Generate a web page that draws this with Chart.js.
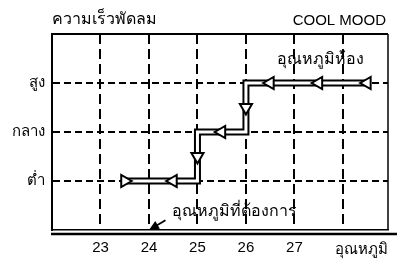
<!DOCTYPE html>
<html>
<head>
<meta charset="utf-8">
<script src="https://cdn.jsdelivr.net/npm/chart.js@4"></script>
<style>
  body { margin: 0; background: #fff; }
</style>
</head>
<body>
<canvas id="myChart" width="397" height="260"></canvas>
<script>
// axis ticks
const xTicks = [23, 24, 25, 26, 27, 28];
const xTickLabels = ['23', '24', '25', '26', '27', ''];
const yTicks = [1, 2, 3];
const yTickLabels = ['ต่ำ', 'กลาง', 'สูง'];

// the stepped path (temperature, fan speed)
const pathX = [23.5, 25, 25, 26, 26, 28.5];
const pathY = [1, 1, 2, 2, 3, 3];

// arrow heads on the path
const arrowX = [23.5, 24.5, 25, 25.5, 26, 26.5, 27.5, 28.5];
const arrowY = [1, 1, 1.5, 2, 2.5, 3, 3, 3];
const arrowDir = ['right', 'left', 'down', 'left', 'down', 'left', 'left', 'left'];

const FONT = 'Liberation Sans, Arial, sans-serif';
const rot = { up: 0, right: 90, down: 180, left: 270 };

const toPoints = (xs, ys) => xs.map((x, i) => ({ x: x, y: ys[i] }));

// frame, double base line and the texts
const extras = {
  id: 'extras',
  afterDraw(chart) {
    const c = chart.ctx;
    const a = chart.chartArea;
    const sx = chart.scales.x;
    const sy = chart.scales.y;
    c.save();
    c.strokeStyle = '#000';
    // top + right frame
    c.lineWidth = 2;
    c.beginPath();
    c.moveTo(a.left - 1, a.top);
    c.lineTo(a.right, a.top);
    c.stroke();
    c.lineWidth = 1.5;
    c.beginPath();
    c.moveTo(a.right, a.top);
    c.lineTo(a.right, a.bottom);
    c.stroke();
    // second base line
    c.lineWidth = 2.5;
    c.beginPath();
    c.moveTo(a.left - 1, a.bottom + 4);
    c.lineTo(chart.width, a.bottom + 4);
    c.stroke();

    c.fillStyle = '#000';
    c.textBaseline = 'middle';
    c.textAlign = 'left';
    c.font = '16px ' + FONT;
    c.fillText('ความเร็วพัดลม', a.left, 20);
    c.font = '15px ' + FONT;
    c.textAlign = 'right';
    c.fillText('COOL MOOD', a.right - 2, 21);
    c.fillText('อุณหภูมิ', a.right, 250);
    c.textAlign = 'left';
    c.font = '16px ' + FONT;
    c.fillText('อุณหภูมิห้อง', sx.getPixelForValue(26.64), sy.getPixelForValue(3.47));
    c.fillText('อุณหภูมิที่ต้องการ', sx.getPixelForValue(24.48), sy.getPixelForValue(0.37));

    // pointer arrow to 24
    const x0 = sx.getPixelForValue(24.34), y0 = sy.getPixelForValue(0.2);
    const x1 = sx.getPixelForValue(24), y1 = sy.getPixelForValue(0);
    const ang = Math.atan2(y1 - y0, x1 - x0);
    c.lineWidth = 1.8;
    c.beginPath();
    c.moveTo(x0, y0);
    c.lineTo(x1 - Math.cos(ang) * 6, y1 - Math.sin(ang) * 6);
    c.stroke();
    c.beginPath();
    c.moveTo(x1, y1);
    c.lineTo(x1 - Math.cos(ang) * 10 - Math.sin(ang) * 4.5, y1 - Math.sin(ang) * 10 + Math.cos(ang) * 4.5);
    c.lineTo(x1 - Math.cos(ang) * 10 + Math.sin(ang) * 4.5, y1 - Math.sin(ang) * 10 - Math.cos(ang) * 4.5);
    c.closePath();
    c.fill();
    c.restore();
  }
};

new Chart(document.getElementById('myChart'), {
  type: 'line',
  data: {
    datasets: [
      {
        // arrow heads
        data: toPoints(arrowX, arrowY),
        showLine: false,
        pointStyle: 'triangle',
        pointRadius: 7,
        pointRotation: arrowDir.map(d => rot[d]),
        pointBackgroundColor: '#fff',
        pointBorderColor: '#000',
        pointBorderWidth: 2,
        order: 0
      },
      {
        // white core of the path
        data: toPoints(pathX, pathY),
        borderColor: '#fff',
        borderWidth: 3,
        pointRadius: 0,
        order: 1
      },
      {
        // black outline of the path
        data: toPoints(pathX, pathY),
        borderColor: '#000',
        borderWidth: 7,
        pointRadius: 0,
        order: 2
      }
    ]
  },
  options: {
    responsive: false,
    animation: false,
    devicePixelRatio: 1,
    layout: { padding: { top: 34, right: 2, left: 0, bottom: 0 } },
    plugins: {
      legend: { display: false },
      tooltip: { enabled: false }
    },
    scales: {
      x: {
        type: 'linear',
        min: 22,
        max: 28.93,
        afterBuildTicks: s => { s.ticks = xTicks.map(v => ({ value: v })); },
        afterFit: s => { s.height = 30; },
        ticks: {
          callback: (v) => xTickLabels[xTicks.indexOf(v)] || '',
          color: '#000',
          font: { family: FONT, size: 15 },
          padding: 9,
          maxRotation: 0
        },
        grid: { color: '#000', lineWidth: 2, drawTicks: false },
        border: { display: true, color: '#000', width: 1.5, dash: [10, 5] }
      },
      y: {
        min: 0,
        max: 4,
        afterBuildTicks: s => { s.ticks = yTicks.map(v => ({ value: v })); },
        afterFit: s => { s.width = 52; },
        ticks: {
          callback: (v) => yTickLabels[yTicks.indexOf(v)] || '',
          color: '#000',
          font: { family: FONT, size: 15 },
          padding: 7
        },
        grid: { color: '#000', lineWidth: 2, drawTicks: false },
        border: { display: true, color: '#000', width: 2, dash: [7, 4] }
      }
    }
  },
  plugins: [extras]
});
</script>
</body>
</html>
